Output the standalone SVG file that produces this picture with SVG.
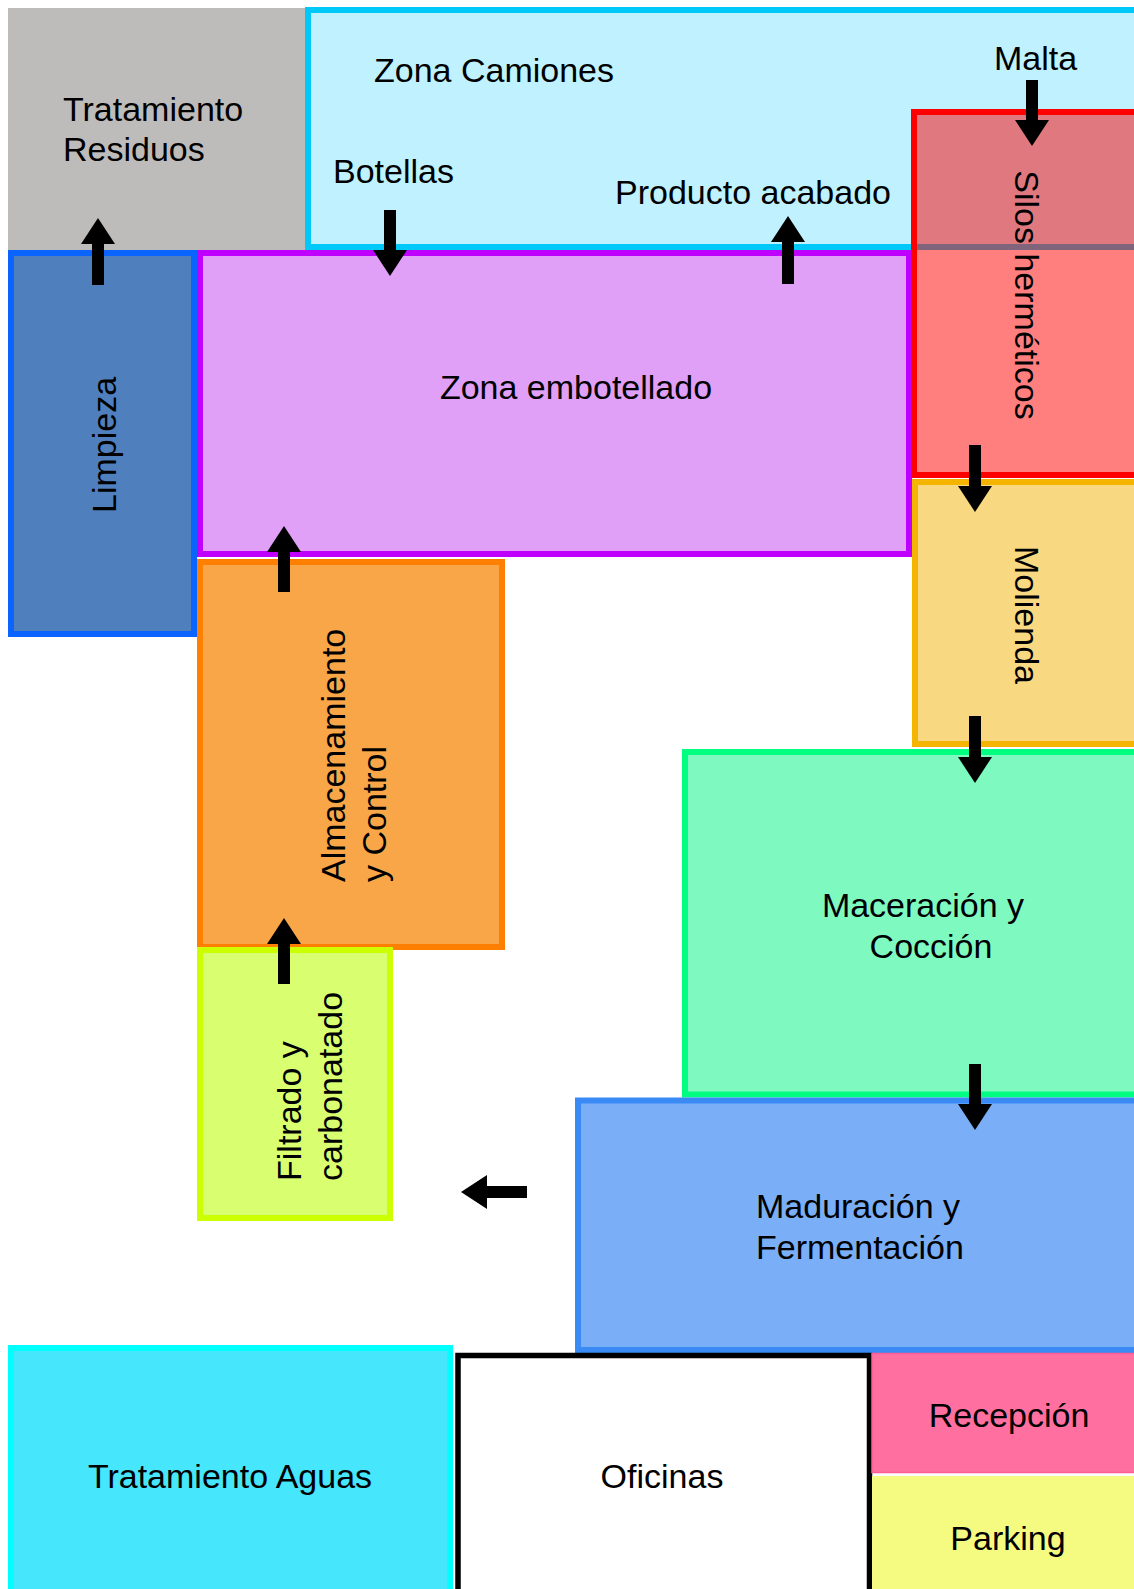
<svg xmlns="http://www.w3.org/2000/svg" width="1134" height="1589" viewBox="0 0 1134 1589">
  <style>
    text { font-family: "Liberation Sans", Arial, Helvetica, sans-serif; font-size: 34px; fill: #000; }
    .zone { stroke-width: 6; }
    .arrow { stroke: #000; stroke-width: 12; fill: none; marker-end: url(#head); }
  </style>
  <defs>
    <marker id="head" markerUnits="userSpaceOnUse" markerWidth="26" markerHeight="34" refX="0" refY="17" orient="auto" viewBox="0 0 26 34">
      <path d="M0,0 L26,17 L0,34 Z" fill="#000"/>
    </marker>
  </defs>
  <rect width="1134" height="1589" fill="#fff"/>

  <g id="tratamiento-residuos">
    <rect x="8" y="8" width="299" height="242" fill="#bebcbb"/>
    <text x="63" y="121">Tratamiento</text>
    <text x="63" y="161">Residuos</text>
  </g>

  <g id="zona-camiones">
    <rect class="zone" x="308" y="10" width="840" height="237" fill="#bff2fe" stroke="#00c8f8"/>
    <text x="374" y="82">Zona Camiones</text>
    <text x="994" y="70">Malta</text>
    <text x="333" y="183">Botellas</text>
    <text x="615" y="204">Producto acabado</text>
  </g>

  <g id="limpieza">
    <rect class="zone" x="11" y="253" width="183" height="381" fill="#4f80bd" stroke="#0a64ff"/>
    <text transform="translate(116,445) rotate(-90)" text-anchor="middle">Limpieza</text>
  </g>

  <g id="zona-embotellado">
    <rect class="zone" x="200" y="253" width="709" height="301" fill="#e0a0f8" stroke="#bf00ff"/>
    <text x="576" y="399" text-anchor="middle">Zona embotellado</text>
  </g>

  <g id="silos">
    <rect class="zone" x="914" y="112" width="240" height="363" fill="#ff0000" fill-opacity="0.5" stroke="#ff0000"/>
    <text transform="translate(1015,295) rotate(90)" text-anchor="middle">Silos herméticos</text>
  </g>

  <g id="molienda">
    <rect class="zone" x="915" y="482" width="240" height="262" fill="#f9d882" stroke="#f5b400"/>
    <text transform="translate(1015,615) rotate(90)" text-anchor="middle">Molienda</text>
  </g>

  <g id="maceracion">
    <rect class="zone" x="685" y="752" width="470" height="342.5" fill="#7ef9c0" stroke="#00ff80"/>
    <text x="923" y="917" text-anchor="middle">Maceración y</text>
    <text x="931" y="958" text-anchor="middle">Cocción</text>
  </g>

  <g id="maduracion">
    <rect class="zone" x="578" y="1100.5" width="580" height="249.5" fill="#7aaff8" stroke="#3a8af5"/>
    <text x="756" y="1218">Maduración y</text>
    <text x="756" y="1259">Fermentación</text>
  </g>

  <g id="almacenamiento">
    <rect class="zone" x="200" y="562" width="302" height="385" fill="#f8a648" stroke="#ff8000"/>
    <text transform="translate(345,882) rotate(-90)">Almacenamiento</text>
    <text transform="translate(386,882) rotate(-90)">y Control</text>
  </g>

  <g id="filtrado">
    <rect class="zone" x="200" y="950" width="190" height="268" fill="#d9ff70" stroke="#ccff00"/>
    <text transform="translate(301,1181) rotate(-90)">Filtrado y</text>
    <text transform="translate(342,1181) rotate(-90)">carbonatado</text>
  </g>

  <g id="tratamiento-aguas">
    <rect class="zone" x="11" y="1348" width="439" height="260" fill="#46e6fc" stroke="#00ffff"/>
    <text x="230" y="1488" text-anchor="middle">Tratamiento Aguas</text>
  </g>

  <g id="oficinas">
    <rect x="458" y="1355.5" width="411.5" height="260" fill="#fff" stroke="#000" stroke-width="5.5"/>
    <text x="662" y="1488" text-anchor="middle">Oficinas</text>
  </g>

  <g id="recepcion">
    <rect x="872" y="1353.5" width="270" height="119" fill="#ff70a0" stroke="#ff5c95" stroke-width="1.5"/>
    <text x="1009" y="1427" text-anchor="middle">Recepción</text>
  </g>

  <g id="parking">
    <rect x="872" y="1476" width="270" height="120" fill="#f5fa80"/>
    <text x="1008" y="1550" text-anchor="middle">Parking</text>
  </g>

  <g id="connectors">
    <line class="arrow" x1="98" y1="285" x2="98" y2="244"/>
    <line class="arrow" x1="390" y1="210" x2="390" y2="250"/>
    <line class="arrow" x1="788" y1="284" x2="788" y2="242"/>
    <line class="arrow" x1="1032" y1="80" x2="1032" y2="120"/>
    <line class="arrow" x1="975" y1="445" x2="975" y2="486"/>
    <line class="arrow" x1="975" y1="716" x2="975" y2="757"/>
    <line class="arrow" x1="975" y1="1064" x2="975" y2="1104"/>
    <line class="arrow" x1="284" y1="592" x2="284" y2="552"/>
    <line class="arrow" x1="284" y1="984" x2="284" y2="944"/>
    <line class="arrow" x1="527" y1="1192" x2="487" y2="1192"/>
  </g>
</svg>
